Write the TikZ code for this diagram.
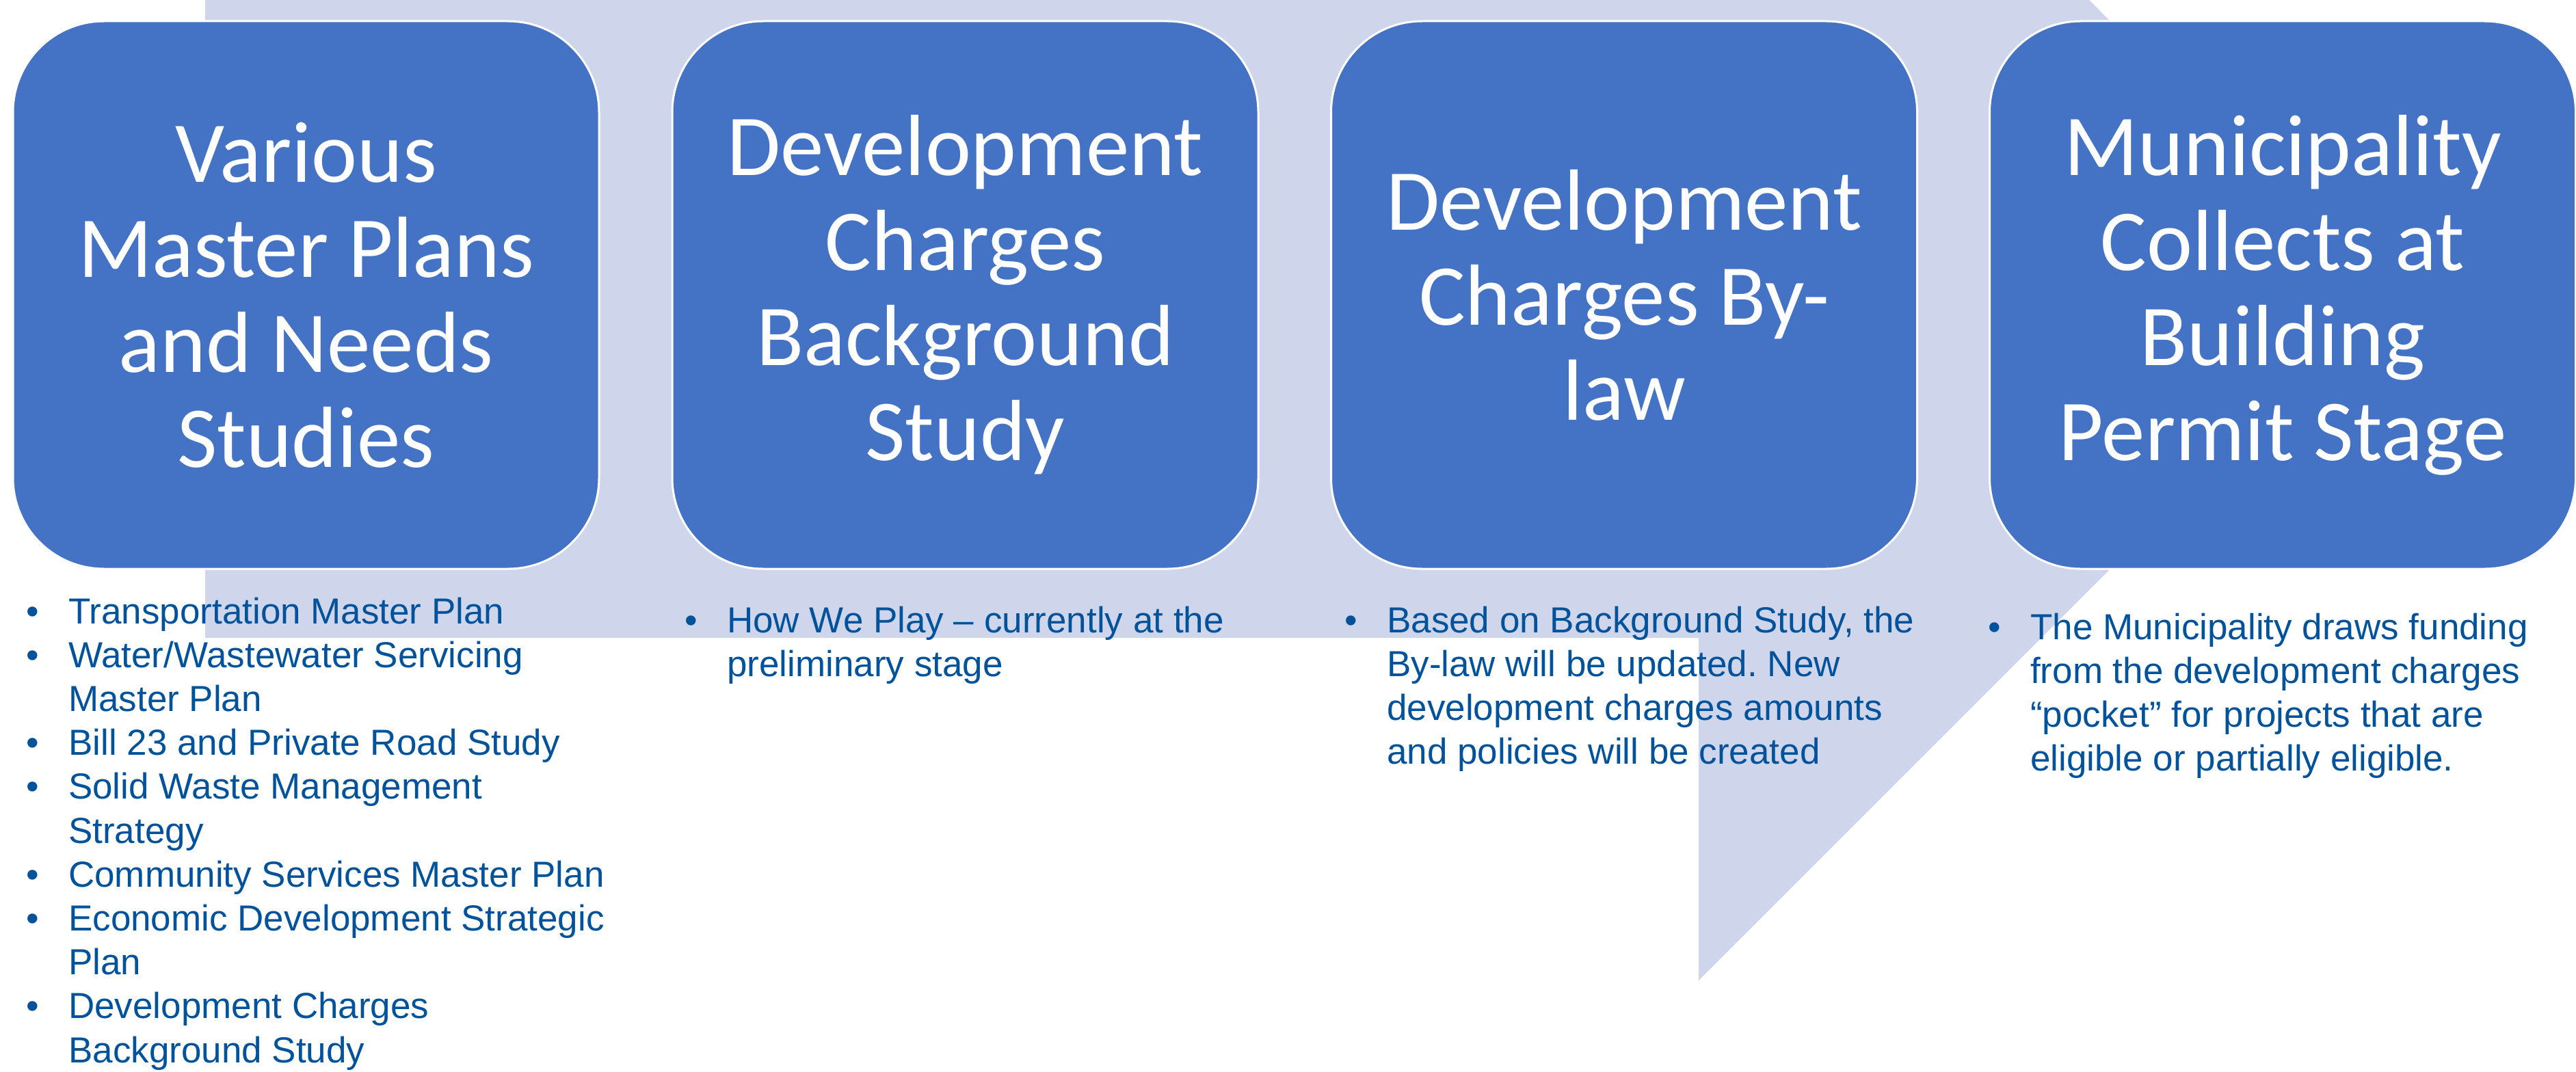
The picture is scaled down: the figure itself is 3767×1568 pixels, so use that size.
\documentclass[tikz,border=0pt]{standalone}
\usepackage{fontspec}
\setmainfont{Liberation Sans}
\newfontfamily\titlefont{Carlito}
\frenchspacing
\definecolor{stageblue}{HTML}{4472C4}
\definecolor{bandcol}{HTML}{CFD5EA}
\definecolor{listblue}{RGB}{0,82,155}
\newcommand\bitem[1]{\hbox{\llap{\textbullet\hspace{43pt}}#1}}
\newcommand\bcont[1]{\hbox{#1}}
\begin{document}
\begin{tikzpicture}[x=1pt,y=-1pt,
  stage/.style={draw=white, line width=3pt, fill=stageblue, rounded corners=133pt,
    minimum width=857pt, minimum height=801pt, inner sep=0pt, align=center,
    text=white, font=\titlefont\fontsize{127}{139}\selectfont},
  bullets/.style={anchor=base west, inner sep=0pt, text=listblue,
    font=\frenchspacing\fontsize{53}{64.2}\selectfont}]
\useasboundingbox (0,0) rectangle (3767,1568);
\fill[white] (0,0) rectangle (3767,1568);
% background arrow
\fill[bandcol] (300,0) -- (3055,0) -- (3486,432) -- (2484,1434) -- (2484,933) -- (300,933) -- cycle;
% stages
\node[stage] (s1) at (447.5,431.5) {Various\\Master Plans\\and Needs\\Studies};
\node[stage] (s2) at (1411.5,431.5) {Development\\Charges\\Background\\Study};
\node[stage] (s3) at (2375,431.5) {Development\\Charges By-\\law};
\node[stage] (s4) at (3338,431.5) {Municipality\\Collects at\\Building\\Permit Stage};
% bullet lists
\node[bullets] (l1) at (100,912) {\vtop{%
  \bitem{Transportation Master Plan}
  \bitem{Water/Wastewater Servicing}
  \bcont{Master Plan}
  \bitem{Bill 23 and Private Road Study}
  \bitem{Solid Waste Management}
  \bcont{Strategy}
  \bitem{Community Services Master Plan}
  \bitem{Economic Development Strategic}
  \bcont{Plan}
  \bitem{Development Charges}
  \bcont{Background Study}}};
\node[bullets] (l2) at (1063,925) {\vtop{%
  \bitem{How We Play – currently at the}
  \bcont{preliminary stage}}};
\node[bullets] (l3) at (2028,925) {\vtop{%
  \bitem{Based on Background Study, the}
  \bcont{By-law will be updated. New}
  \bcont{development charges amounts}
  \bcont{and policies will be created}}};
\node[bullets] (l4) at (2969,935) {\vtop{%
  \bitem{The Municipality draws funding}
  \bcont{from the development charges}
  \bcont{“pocket” for projects that are}
  \bcont{eligible or partially eligible.}}};
\end{tikzpicture}
\end{document}
